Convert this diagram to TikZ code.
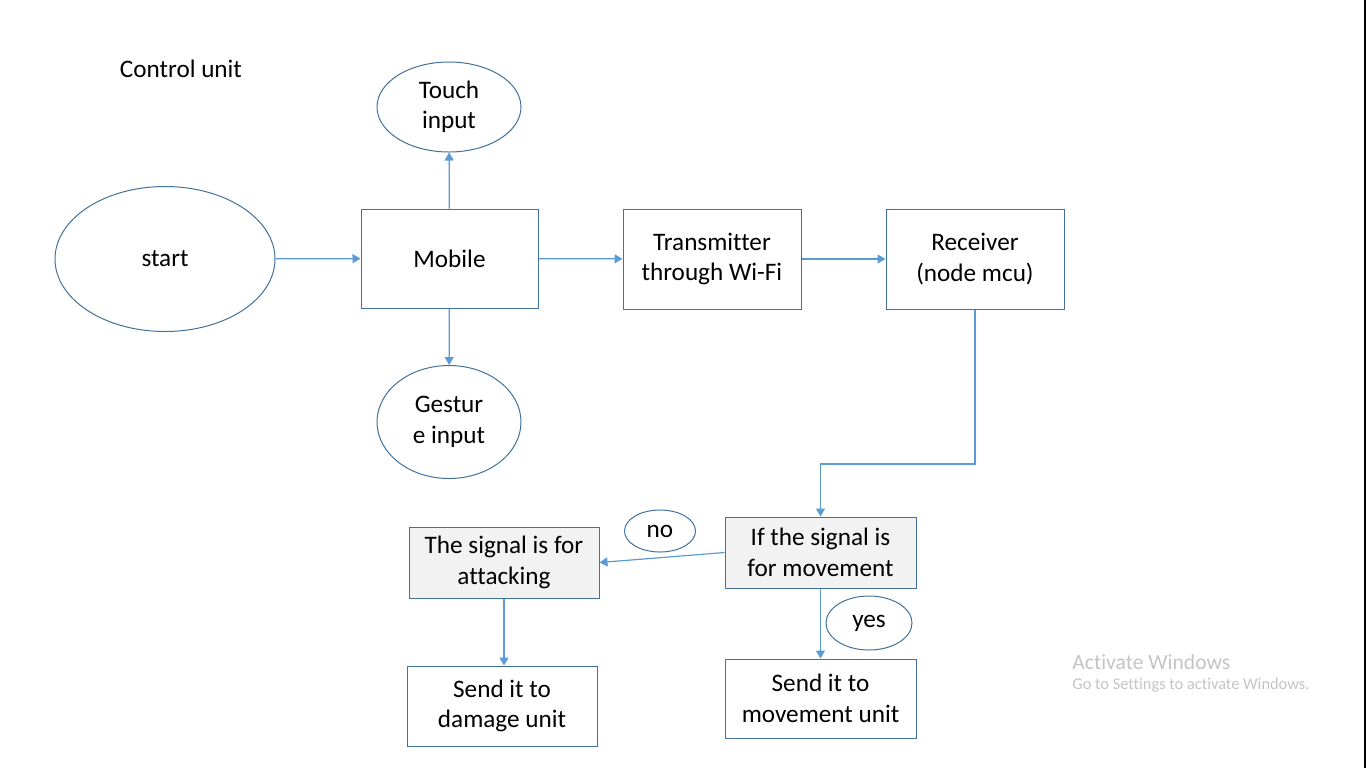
\documentclass[tikz,border=0pt]{standalone}
\usepackage{fontspec}
\setmainfont{Carlito}[Ligatures={NoCommon}]
\usetikzlibrary{arrows.meta,shapes.geometric}
\definecolor{edgeblue}{HTML}{41719C}
\definecolor{linkblue}{HTML}{5B9BD5}
\definecolor{boxgray}{HTML}{F2F2F2}
\definecolor{markgray}{HTML}{C4C4C4}

\begin{document}
\begin{tikzpicture}[x=0.5pt,y=-0.5pt,
  every node/.style={font=\fontsize{12.6}{15.2}\selectfont, align=center, inner sep=0pt},
  box/.style={draw=edgeblue, line width=0.5pt, rectangle, minimum width=89pt, minimum height=50pt},
  graybox/.style={box, fill=boxgray},
  oval/.style={draw=edgeblue, line width=0.5pt, ellipse},
  link/.style={draw=linkblue, line width=0.6pt, -{Triangle[length=4pt,width=4.5pt]}}]
      \useasboundingbox (0,0) rectangle (1366,768);
      \node (title) at (181,69) {Control unit};

      \node [oval, minimum width=110pt, minimum height=72.5pt] (start) at (165,259) {start};
      \node [box, minimum width=88.5pt, minimum height=49.5pt] (mobile) at (449.5,258.5) {Mobile};
      \node [oval, minimum width=72pt, minimum height=45pt] (touch) at (449,107) {Touch\\input};
      \node [oval, minimum width=72pt, minimum height=56.5pt] (gesture) at (449,422) {Gestur\\e input};
      \node [box] (wifi) at (712,259) {Transmitter\\through Wi-Fi};
      \node [box] (receiver) at (975,259) {Receiver\\(node mcu)};

      \node [graybox, minimum width=95.5pt, minimum height=35.5pt] (check) at (820.5,552.5) {If the signal is\\for movement};
      \node [graybox, minimum width=95pt, minimum height=35.5pt] (attack) at (504,562.5) {The signal is for\\attacking};
      \node [box, minimum width=95pt, minimum height=40pt] (damage) at (502,706) {Send it to\\damage unit};
      \node [box, minimum width=95.5pt, minimum height=39.5pt] (move) at (820.5,698.5) {Send it to\\movement unit};
      \node [oval, minimum width=35.5pt, minimum height=21pt] (no) at (660,531) {no};
      \node [oval, minimum width=43pt, minimum height=27pt] (yes) at (869,623) {yes};
      \coordinate (bend) at (975,464);

      \draw [link] (start) -- (mobile);
      \draw [link] (mobile) -- (touch);
      \draw [link] (mobile) -- (gesture);
      \draw [link] (mobile) -- (wifi);
      \draw [link] (wifi) -- (receiver);
      \draw [link] (receiver.south) -- (bend) -| (check.north);
      \draw [link] (check.west) -- (attack.east);
      \draw [link] (attack.south) -- (attack.south |- damage.north);
      \draw [link] (check.south) -- (move.north);

      \node [anchor=west, text=markgray, font=\fontsize{10.8}{13}\selectfont] (activate) at (1072,662) {Activate Windows};
      \node [anchor=west, text=markgray, font=\fontsize{8.2}{10}\selectfont] (settings) at (1072,685) {Go to Settings to activate Windows.};
      \draw [black, line width=1pt] (1365,0) -- (1365,768);
    \end{tikzpicture}
\end{document}
